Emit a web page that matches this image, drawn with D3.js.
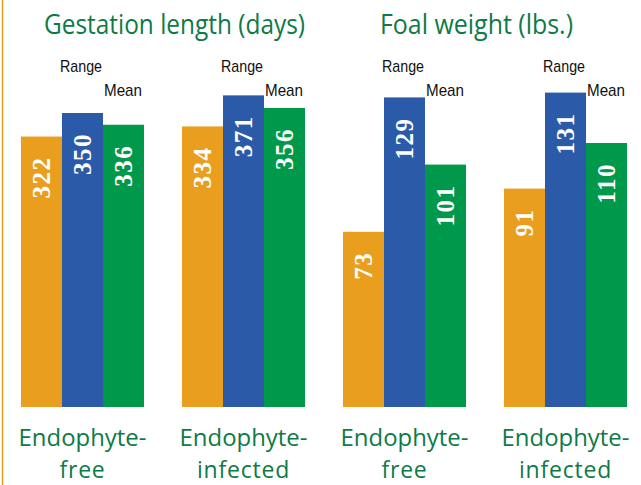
<!DOCTYPE html>
<html><head><meta charset="utf-8">
<script src="https://cdn.jsdelivr.net/npm/d3@7"></script>
<style>html,body{margin:0;padding:0;background:#fff;}svg{display:block;}</style>
</head><body>
<svg id="c" width="641" height="485"></svg>
<script>
const panels = ["Gestation length (days)", "Foal weight (lbs.)"];
const groupLine1 = ["Endophyte-", "Endophyte-", "Endophyte-", "Endophyte-"];
const groupLine2 = ["free", "infected", "free", "infected"];
const groupPanel = [0, 0, 1, 1];
const rangeLow = [322, 334, 73, 91];
const rangeHigh = [350, 371, 129, 131];
const means = [336, 356, 101, 110];
const seriesNames = ["low", "high", "mean"];
const panelMax = [400, 150];

const colors = {low: "#EA9E1E", high: "#2B5BA8", mean: "#00984A"};
const textGreen = "#0E7A45";

const svg = d3.select("#c");
svg.append("rect").attr("x", 0).attr("y", 0).attr("width", 641).attr("height", 485).attr("fill", "#fff");
svg.append("line").attr("x1", 2.5).attr("x2", 2.5).attr("y1", 0).attr("y2", 485)
  .attr("stroke", "#EA9E1E").attr("stroke-width", 1.5);

const base = 407;
const x0 = d3.scaleBand().domain(d3.range(4)).range([21, 627]).paddingInner(0.236).paddingOuter(0);
const x1 = d3.scaleBand().domain(seriesNames).range([0, x0.bandwidth()]).padding(0);
const yScales = [
  d3.scaleLinear().domain([0, panelMax[0]]).range([base, base - 336]),
  d3.scaleLinear().domain([0, panelMax[1]]).range([base, base - 360])
];

const rows = d3.range(4).map(i => ({
  i, panel: groupPanel[i],
  vals: [{k: "low", v: rangeLow[i]}, {k: "high", v: rangeHigh[i]}, {k: "mean", v: means[i]}]
}));

const g = svg.selectAll("g.grp").data(rows).join("g").attr("class", "grp")
  .attr("transform", d => `translate(${x0(d.i)},0)`);

g.selectAll("rect").data(d => d.vals.map(v => ({...v, y: yScales[d.panel]})))
  .join("rect")
  .attr("x", d => x1(d.k))
  .attr("width", x1.bandwidth())
  .attr("y", d => d.y(d.v))
  .attr("height", d => base - d.y(d.v))
  .attr("fill", d => colors[d.k]);

g.selectAll("text.val").data(d => d.vals.map(v => ({...v, y: yScales[d.panel]})))
  .join("text").attr("class", "val")
  .attr("transform", d => `translate(${x1(d.k) + x1.bandwidth() / 2 + 8.5},${d.y(d.v) + 20}) rotate(-90)`)
  .attr("text-anchor", "end")
  .attr("font-family", "'Liberation Serif', 'Times New Roman', serif")
  .attr("font-weight", "bold")
  .attr("font-size", 25)
  .attr("letter-spacing", 1.5)
  .attr("fill", "#fff")
  .text(d => d.v);

g.append("text")
  .attr("x", x1("high") - 2).attr("y", 72)
  .attr("textLength", 42).attr("lengthAdjust", "spacingAndGlyphs")
  .attr("font-family", "'Liberation Sans', Arial, sans-serif")
  .attr("font-size", 17).attr("fill", "#111")
  .text("Range");
g.append("text")
  .attr("x", x1("mean") + 1).attr("y", 96)
  .attr("textLength", 38).attr("lengthAdjust", "spacingAndGlyphs")
  .attr("font-family", "'Liberation Sans', Arial, sans-serif")
  .attr("font-size", 17).attr("fill", "#111")
  .text("Mean");

g.append("text")
  .attr("x", x0.bandwidth() / 2 - 64).attr("y", 446)
  .attr("textLength", 128).attr("lengthAdjust", "spacingAndGlyphs")
  .attr("font-family", "'Open Sans', 'Noto Sans', sans-serif")
  .attr("font-size", 23).attr("fill", textGreen)
  .text(d => groupLine1[d.i]);
g.append("text")
  .attr("x", x0.bandwidth() / 2).attr("y", 478)
  .attr("text-anchor", "middle")
  .attr("font-family", "'Open Sans', 'Noto Sans', sans-serif")
  .attr("font-size", 23).attr("fill", textGreen)
  .attr("letter-spacing", 0.8)
  .text(d => groupLine2[d.i]);

const titleX = [174.5, 476.5];
const titleW = [261, 193];
svg.selectAll("text.title").data(panels).join("text").attr("class", "title")
  .attr("x", (d, i) => titleX[i] - titleW[i] / 2).attr("y", 34)
  .attr("textLength", (d, i) => titleW[i]).attr("lengthAdjust", "spacingAndGlyphs")
  .attr("font-family", "'Open Sans', 'Noto Sans', sans-serif")
  .attr("font-size", 27).attr("fill", textGreen)
  .text(d => d);
</script>
</body></html>
